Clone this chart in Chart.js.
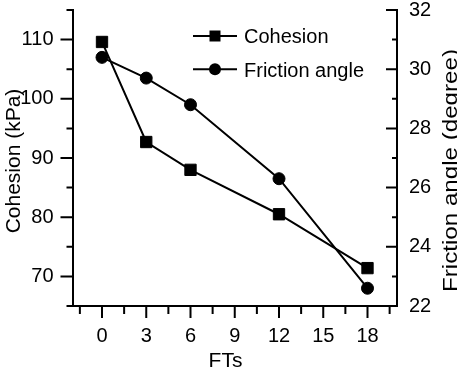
<!DOCTYPE html>
<html>
<head>
<meta charset="utf-8">
<script src="https://cdn.jsdelivr.net/npm/chart.js@4"></script>
<style>
    html, body { margin: 0; padding: 0; background: #fff; }
    #wrap { width: 457px; height: 369px; }
</style>
</head>
<body>
<div id="wrap"><canvas id="chart"></canvas></div>
<script>
// Freeze-thaw cycles vs. shear strength parameters
const fts = [0, 3, 6, 12, 18];
const cohesion = [109.6, 92.7, 88.0, 80.5, 71.4];
const frictionAngle = [30.4, 29.7, 28.8, 26.3, 22.6];

const xTicks = [0, 3, 6, 9, 12, 15, 18];
const xMinorTicks = [-1.5, 1.5, 4.5, 7.5, 10.5, 13.5, 16.5, 19.5];
const cohesionTicks = [70, 80, 90, 100, 110];
const cohesionMinorTicks = [65, 75, 85, 95, 105, 115];
const frictionTicks = [22, 24, 26, 28, 30, 32];
const frictionMinorTicks = [23, 25, 27, 29, 31];

const FONT = '"Liberation Sans", Arial, sans-serif';

const toPoints = (ys) => fts.map((x, i) => ({ x, y: ys[i] }));
const fixTicks = (list) => (scale) => { scale.ticks = list.map(v => ({ value: v })); };
// pin axis box sizes and drop the label overhang padding chart.js adds
const fixSize = (w, h) => (s) => {
    if (w != null) s.width = w;
    if (h != null) s.height = h;
    s.paddingTop = s.paddingBottom = s.paddingLeft = s.paddingRight = 0;
};

// tick marks: outward on left/bottom, inward on right
const tickMarks = {
    id: 'tickMarks',
    afterDraw(chart) {
        const { ctx, scales } = chart;
        const x = scales.x, y = scales.y, y1 = scales.y1;
        ctx.save();
        ctx.strokeStyle = '#000';
        ctx.lineWidth = 2;
        ctx.beginPath();
        const bottom = x.top;
        xTicks.forEach(v => { const p = x.getPixelForValue(v); ctx.moveTo(p, bottom); ctx.lineTo(p, bottom + 12); });
        xMinorTicks.forEach(v => { const p = x.getPixelForValue(v); ctx.moveTo(p, bottom); ctx.lineTo(p, bottom + 8); });
        const left = y.right;
        cohesionTicks.forEach(v => { const p = y.getPixelForValue(v); ctx.moveTo(left, p); ctx.lineTo(left - 12, p); });
        cohesionMinorTicks.forEach(v => { const p = y.getPixelForValue(v); ctx.moveTo(left, p); ctx.lineTo(left - 6, p); });
        const right = y1.left;
        frictionTicks.forEach(v => { const p = y1.getPixelForValue(v); ctx.moveTo(right, p); ctx.lineTo(right - 11, p); });
        frictionMinorTicks.forEach(v => { const p = y1.getPixelForValue(v); ctx.moveTo(right, p); ctx.lineTo(right - 5, p); });
        ctx.stroke();
        ctx.restore();
    }
};

// axis titles + the boxed-in legend
const titlesAndLegend = {
    id: 'titlesAndLegend',
    afterDraw(chart) {
        const { ctx } = chart;
        ctx.save();
        ctx.fillStyle = '#000';
        ctx.textBaseline = 'alphabetic';

        ctx.textAlign = 'center';
        ctx.font = '21px ' + FONT;
        ctx.fillText('FTs', 225.5, 366.5);

        ctx.save();
        ctx.translate(20, 161);
        ctx.rotate(-Math.PI / 2);
        ctx.fillText('Cohesion (kPa)', 0, 0);
        ctx.restore();

        // right title reads bottom-to-top and is a bit stretched in the original
        ctx.save();
        ctx.translate(457, 170.5);
        ctx.rotate(-Math.PI / 2);
        ctx.scale(1.15, 1);
        ctx.fillText('Friction angle (degree)', 0, 0);
        ctx.restore();

        // legend
        const rows = [36, 69.3];
        ctx.textAlign = 'left';
        ctx.font = '20px ' + FONT;
        chart.data.datasets.forEach((ds, i) => {
            const ly = rows[i];
            ctx.strokeStyle = '#000';
            ctx.lineWidth = 2;
            ctx.beginPath();
            ctx.moveTo(193, ly);
            ctx.lineTo(237, ly);
            ctx.stroke();
            ctx.beginPath();
            if (ds.pointStyle === 'rect') {
                ctx.rect(215 - 5.5, ly - 5.5, 11, 11);
            } else {
                ctx.arc(215, ly, 6, 0, Math.PI * 2);
            }
            ctx.fill();
            ctx.fillText(ds.label, 244, ly + 7.2);
        });
        ctx.restore();
    }
};

new Chart(document.getElementById('chart'), {
    type: 'line',
    data: {
        datasets: [
            {
                label: 'Cohesion',
                data: toPoints(cohesion),
                yAxisID: 'y',
                borderColor: '#000',
                backgroundColor: '#000',
                borderWidth: 2,
                pointStyle: 'rect',
                pointRadius: 8,
                pointBorderWidth: 1,
                tension: 0
            },
            {
                label: 'Friction angle',
                data: toPoints(frictionAngle),
                yAxisID: 'y1',
                borderColor: '#000',
                backgroundColor: '#000',
                borderWidth: 2,
                pointStyle: 'circle',
                pointRadius: 6,
                pointBorderWidth: 1,
                tension: 0
            }
        ]
    },
    options: {
        responsive: true,
        maintainAspectRatio: false,
        animation: false,
        layout: { padding: { top: 10, left: 0, right: 0, bottom: 0 } },
        plugins: {
            legend: { display: false },
            tooltip: { enabled: false }
        },
        scales: {
            x: {
                type: 'linear',
                min: -2,
                max: 20,
                afterBuildTicks: fixTicks(xTicks),
                afterFit: fixSize(null, 63),
                grid: { display: false, drawTicks: false },
                border: { display: true, color: '#000', width: 2 },
                ticks: { color: '#000', padding: 18, font: { family: FONT, size: 20 } }
            },
            y: {
                position: 'left',
                min: 65,
                max: 115,
                afterBuildTicks: fixTicks(cohesionTicks),
                afterFit: fixSize(72.5, null),
                grid: { display: false, drawTicks: false },
                border: { display: true, color: '#000', width: 2 },
                ticks: { color: '#000', padding: 19, font: { family: FONT, size: 20 } }
            },
            y1: {
                position: 'right',
                min: 22,
                max: 32,
                afterBuildTicks: fixTicks(frictionTicks),
                afterFit: fixSize(60, null),
                grid: { display: false, drawTicks: false },
                border: { display: true, color: '#000', width: 2 },
                ticks: { color: '#000', padding: 12, font: { family: FONT, size: 20 } }
            }
        }
    },
    plugins: [tickMarks, titlesAndLegend]
});
</script>
</body>
</html>
